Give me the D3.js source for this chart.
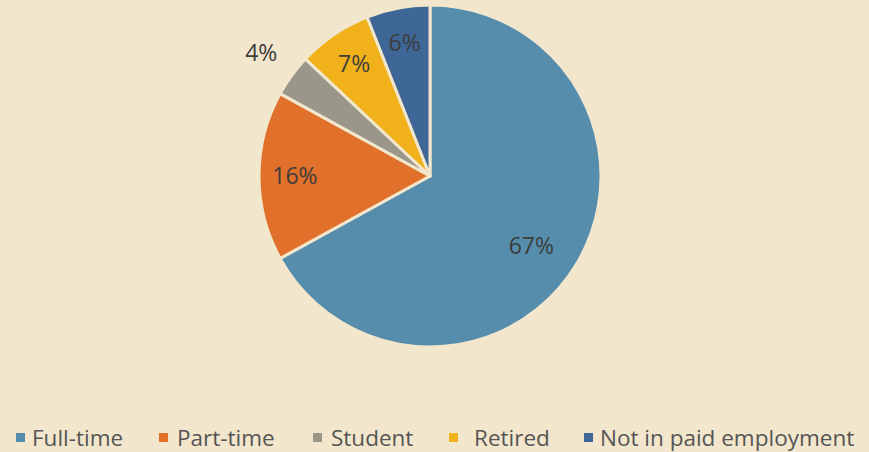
<!DOCTYPE html>
<html>
<head>
<meta charset="utf-8">
<script src="https://cdn.jsdelivr.net/npm/d3@7"></script>
<style>
  body { margin: 0; background: #f2e6cd; }
  svg { display: block; }
  .slice-label { font-family: "Open Sans", sans-serif; font-size: 23px; fill: #3d3d3d; }
  .legend-text { font-family: "Open Sans", sans-serif; font-size: 22.5px; fill: #555; }
</style>
</head>
<body>
<div id="chart"></div>
<script>
// data
var categories = ["Full-time", "Part-time", "Student", "Retired", "Not in paid employment"];
var shares = [67, 16, 4, 7, 6];
var colors = ["#568dad", "#e0702a", "#9b968a", "#f0b11b", "#3e6696"];

var svgWidth = 869;
var svgHeight = 452;
var cx = 430, cy = 176, radius = 171;

var svg = d3.select("#chart")
    .append("svg")
    .attr("width", svgWidth)
    .attr("height", svgHeight);

svg.append("rect")
    .attr("width", svgWidth)
    .attr("height", svgHeight)
    .attr("fill", "#f2e6cd");

var data = categories.map((c, i) => ({ name: c, value: shares[i], color: colors[i] }));

var pie = d3.pie()
    .value(d => d.value)
    .sort(null);

var arc = d3.arc()
    .innerRadius(0)
    .outerRadius(radius);

var chartGroup = svg.append("g")
    .attr("transform", `translate(${cx}, ${cy})`);

var arcs = pie(data);

chartGroup.selectAll("path")
    .data(arcs)
    .enter()
    .append("path")
    .attr("d", arc)
    .attr("fill", d => d.data.color)
    .attr("stroke", "#f2e6cd")
    .attr("stroke-width", 3)
    .attr("stroke-linejoin", "round");

// labels: small slices go outside
function labelPos(d) {
    var k = d.data.value < 5 ? 1.22 : (d.data.value > 50 ? 0.72 : 0.79);
    var a = (d.startAngle + d.endAngle) / 2;
    if (d.data.value > 50) a += 0.07;
    return [Math.sin(a) * radius * k, -Math.cos(a) * radius * k];
}

chartGroup.selectAll(".slice-label")
    .data(arcs)
    .enter()
    .append("text")
    .attr("class", "slice-label")
    .attr("x", d => labelPos(d)[0])
    .attr("y", d => labelPos(d)[1])
    .attr("dy", "0.35em")
    .attr("text-anchor", "middle")
    .text(d => d.data.value + "%");

// legend
var legendX = [16, 159, 313, 449, 584];
var legend = svg.append("g").attr("class", "legend");

var items = legend.selectAll("g")
    .data(data)
    .enter()
    .append("g")
    .attr("transform", (d, i) => `translate(${legendX[i]}, 438)`);

items.append("rect")
    .attr("x", 0)
    .attr("y", -5)
    .attr("width", 9)
    .attr("height", 9)
    .attr("fill", d => d.color);

items.append("text")
    .attr("class", "legend-text")
    .attr("x", (d, i) => i === 0 ? 16 : (i === 4 ? 16 : (i === 3 ? 25 : 18)))
    .attr("y", 0)
    .attr("dy", "0.35em")
    .text(d => d.name);
</script>
</body>
</html>
